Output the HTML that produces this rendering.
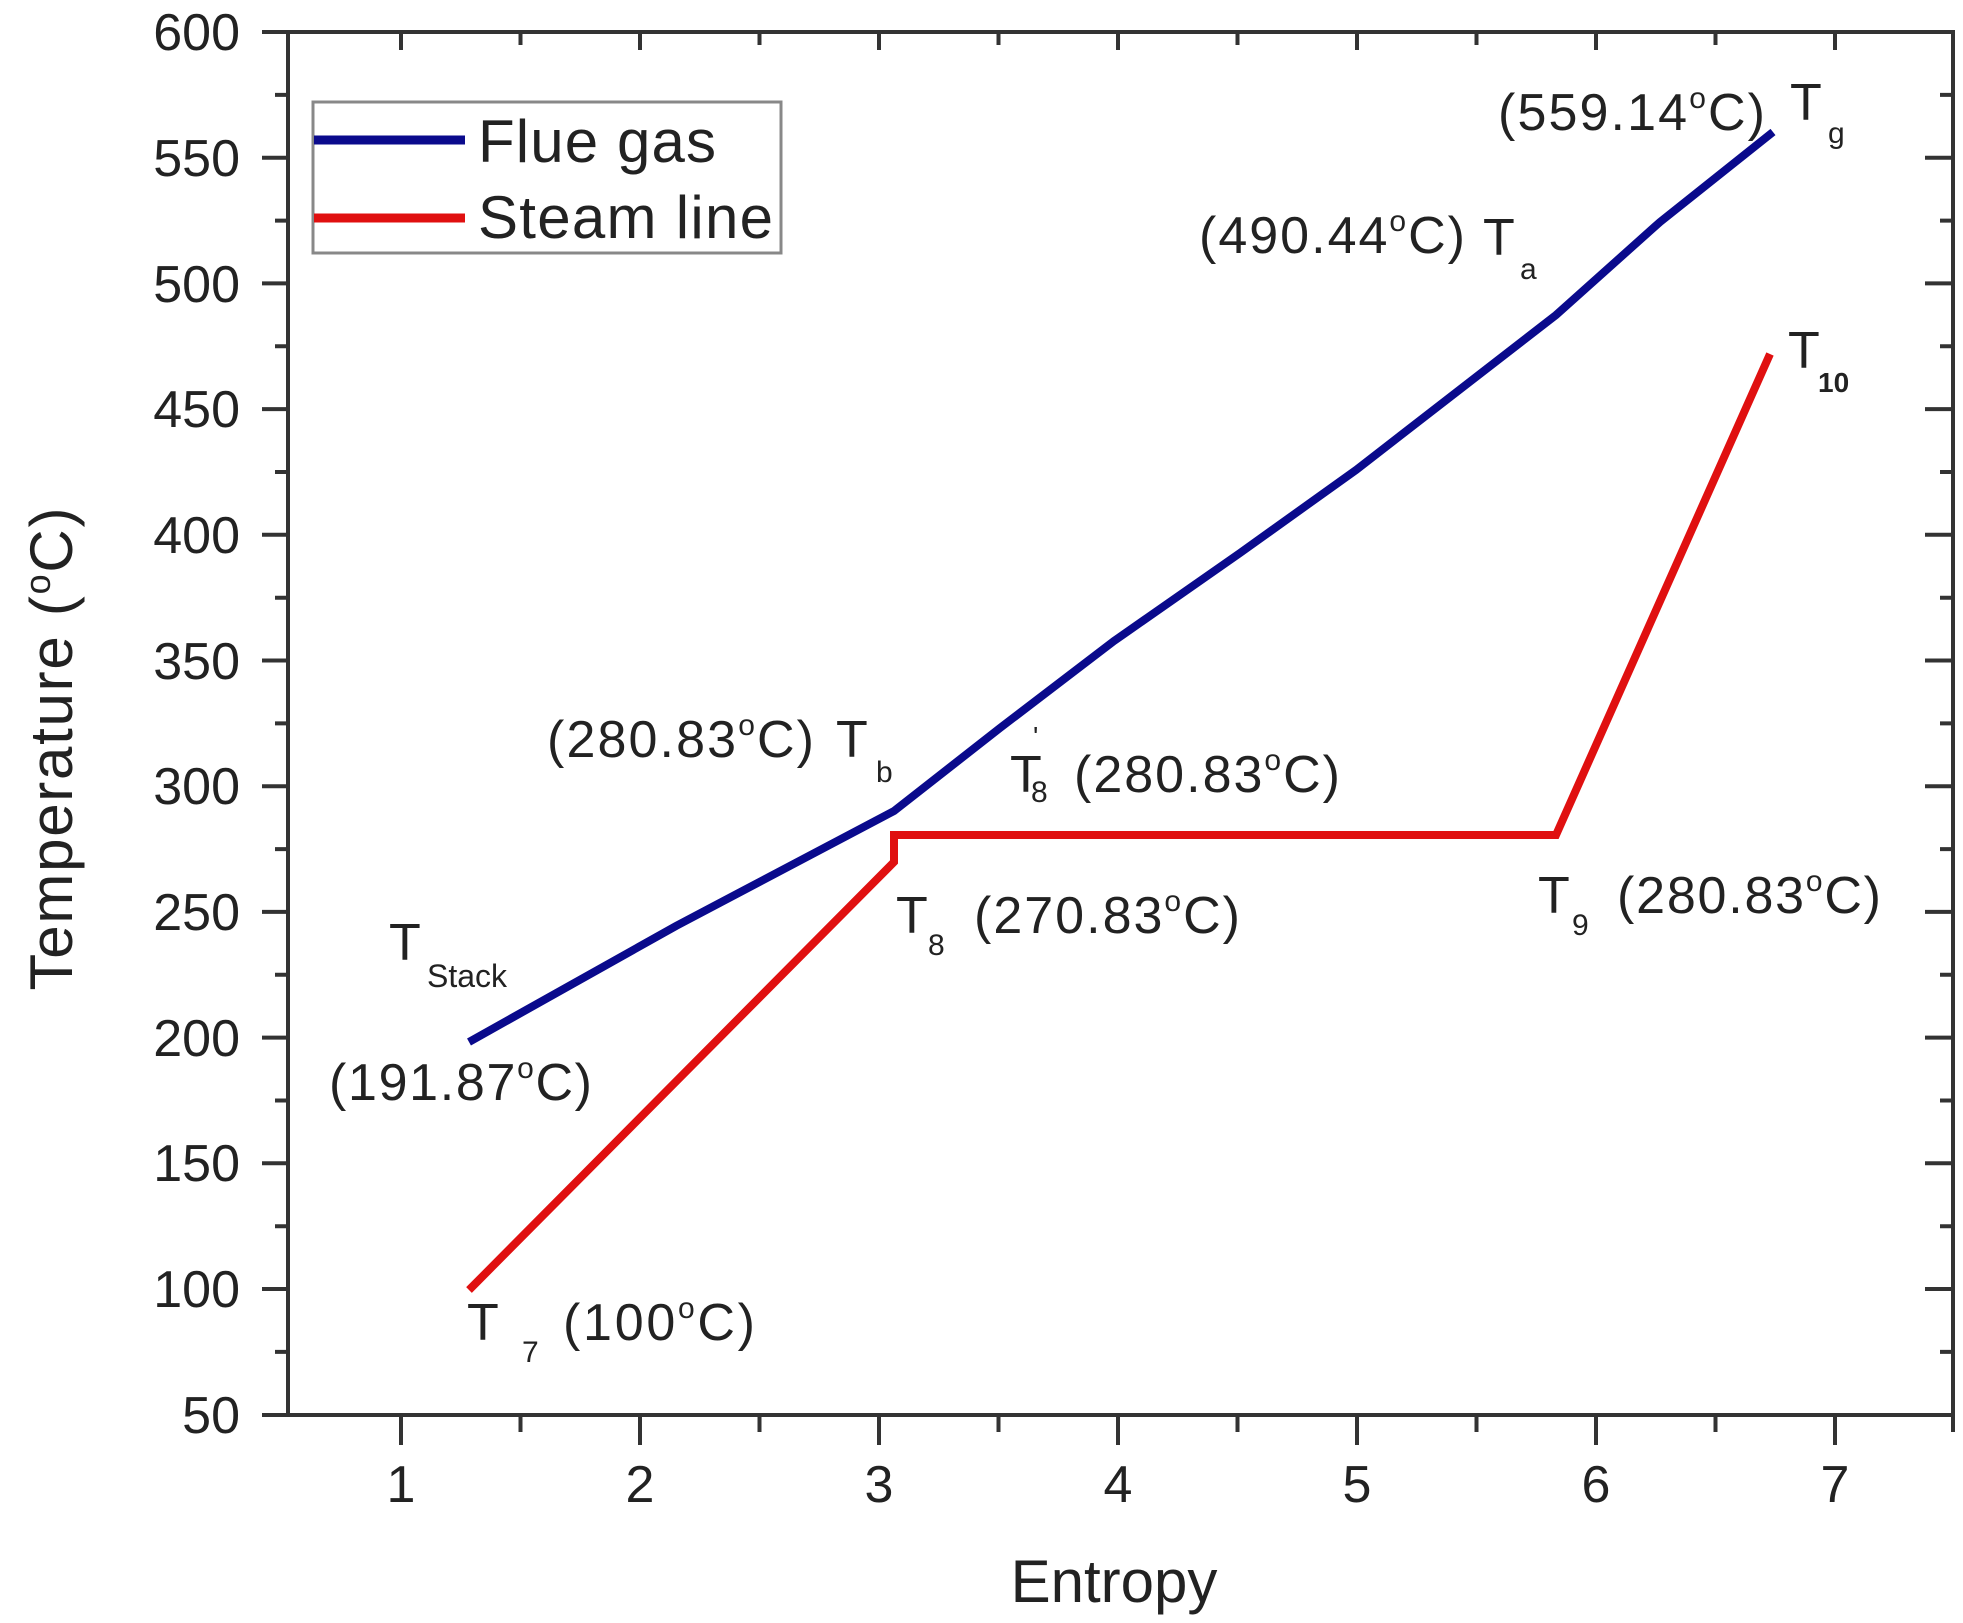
<!DOCTYPE html>
<html><head><meta charset="utf-8"><style>html,body{margin:0;padding:0;background:#fff}svg{display:block}</style></head>
<body>
<svg width="1963" height="1623" viewBox="0 0 1963 1623" xmlns="http://www.w3.org/2000/svg" font-family="Liberation Sans, Arial, sans-serif" fill="#222">
<g stroke="#333" stroke-width="4" fill="none">
<rect x="288" y="32" width="1665" height="1383"/>
<path d="M262 32H288M262 157.7H288M262 283.4H288M262 409.1H288M262 534.8H288M262 660.5H288M262 786.2H288M262 911.9H288M262 1037.6H288M262 1163.3H288M262 1289H288M262 1415H288"/>
<path d="M275 94.9H288M275 220.6H288M275 346.3H288M275 472H288M275 597.7H288M275 723.4H288M275 849.1H288M275 974.8H288M275 1100.5H288M275 1226.2H288M275 1351.9H288"/>
<path d="M1925 157.7H1953M1925 283.4H1953M1925 409.1H1953M1925 534.8H1953M1925 660.5H1953M1925 786.2H1953M1925 911.9H1953M1925 1037.6H1953M1925 1163.3H1953M1925 1289H1953"/>
<path d="M1940 94.9H1953M1940 220.6H1953M1940 346.3H1953M1940 472H1953M1940 597.7H1953M1940 723.4H1953M1940 849.1H1953M1940 974.8H1953M1940 1100.5H1953M1940 1226.2H1953M1940 1351.9H1953"/>
<path d="M401 1415V1445M640 1415V1445M879 1415V1445M1118 1415V1445M1357 1415V1445M1596 1415V1445M1835 1415V1445"/>
<path d="M520.5 1415V1432M759.5 1415V1432M998.5 1415V1432M1237.5 1415V1432M1476.5 1415V1432M1715.5 1415V1432M1953 1415V1432"/>
<path d="M401 32V50M640 32V50M879 32V50M1118 32V50M1357 32V50M1596 32V50M1835 32V50M520.5 32V45M759.5 32V45M998.5 32V45M1237.5 32V45M1476.5 32V45M1715.5 32V45"/>
</g>
<g font-size="52" text-anchor="end">
<text x="240" y="50">600</text><text x="240" y="176">550</text><text x="240" y="302">500</text><text x="240" y="427">450</text><text x="240" y="553">400</text><text x="240" y="679">350</text><text x="240" y="804">300</text><text x="240" y="930">250</text><text x="240" y="1056">200</text><text x="240" y="1181">150</text><text x="240" y="1307">100</text><text x="240" y="1433">50</text>
</g>
<g font-size="52" text-anchor="middle">
<text x="401" y="1502">1</text><text x="640" y="1502">2</text><text x="879" y="1502">3</text><text x="1118" y="1502">4</text><text x="1357" y="1502">5</text><text x="1596" y="1502">6</text><text x="1835" y="1502">7</text>
</g>
<text x="1114" y="1602" font-size="60" text-anchor="middle">Entropy</text>
<text transform="translate(72,749) rotate(-90)" font-size="60" text-anchor="middle" textLength="483">Temperature (<tspan font-size="36" dy="-22">o</tspan><tspan dy="22">C)</tspan></text>
<polyline fill="none" stroke="#e01010" stroke-width="8" stroke-linejoin="miter" points="469,1290 894,862 894,835 1556,835 1770,354"/>
<polyline fill="none" stroke="#0a0a8c" stroke-width="8" points="469,1042 676,926 894,811 1000,728 1114,641 1240,553 1356,470 1556,315 1660,222 1773,132"/>
<rect x="313" y="102" width="468" height="151" fill="#fff" stroke="#888" stroke-width="3"/>
<line x1="314" y1="140" x2="465" y2="140" stroke="#0a0a8c" stroke-width="9"/>
<line x1="314" y1="218" x2="465" y2="218" stroke="#e01010" stroke-width="9"/>
<text x="478" y="162" font-size="60" textLength="238">Flue gas</text>
<text x="478" y="238" font-size="60" textLength="295">Steam line</text>
<g font-size="52">
<text x="1498" y="130" textLength="267">(559.14<tspan font-size="30" dy="-22">o</tspan><tspan dy="22">C)</tspan></text>
<text x="1790" y="120">T</text><text x="1828" y="143" font-size="30">g</text>
<text x="1199" y="253" textLength="266">(490.44<tspan font-size="30" dy="-22">o</tspan><tspan dy="22">C)</tspan></text>
<text x="1483" y="255">T</text><text x="1520" y="279" font-size="30">a</text>
<text x="1788" y="368">T</text><text x="1818" y="392" font-size="28" font-weight="bold">10</text>
<text x="547" y="757" textLength="267">(280.83<tspan font-size="30" dy="-22">o</tspan><tspan dy="22">C)</tspan></text>
<text x="836" y="757">T</text><text x="876" y="782" font-size="30">b</text>
<text x="1010" y="792">T</text><text x="1031" y="802" font-size="30">8</text><text x="1033" y="746" font-size="28">'</text>
<text x="1074" y="792" textLength="266">(280.83<tspan font-size="30" dy="-22">o</tspan><tspan dy="22">C)</tspan></text>
<text x="896" y="933">T</text><text x="928" y="955" font-size="30">8</text>
<text x="974" y="933" textLength="266">(270.83<tspan font-size="30" dy="-22">o</tspan><tspan dy="22">C)</tspan></text>
<text x="1538" y="913">T</text><text x="1572" y="935" font-size="30">9</text>
<text x="1617" y="913" textLength="264">(280.83<tspan font-size="30" dy="-22">o</tspan><tspan dy="22">C)</tspan></text>
<text x="389" y="960">T</text><text x="427" y="987" font-size="32">Stack</text>
<text x="329" y="1100" textLength="263">(191.87<tspan font-size="30" dy="-22">o</tspan><tspan dy="22">C)</tspan></text>
<text x="467" y="1340">T</text><text x="522" y="1362" font-size="30">7</text>
<text x="563" y="1340" textLength="192">(100<tspan font-size="30" dy="-22">o</tspan><tspan dy="22">C)</tspan></text>
</g>
</svg>
</body></html>
